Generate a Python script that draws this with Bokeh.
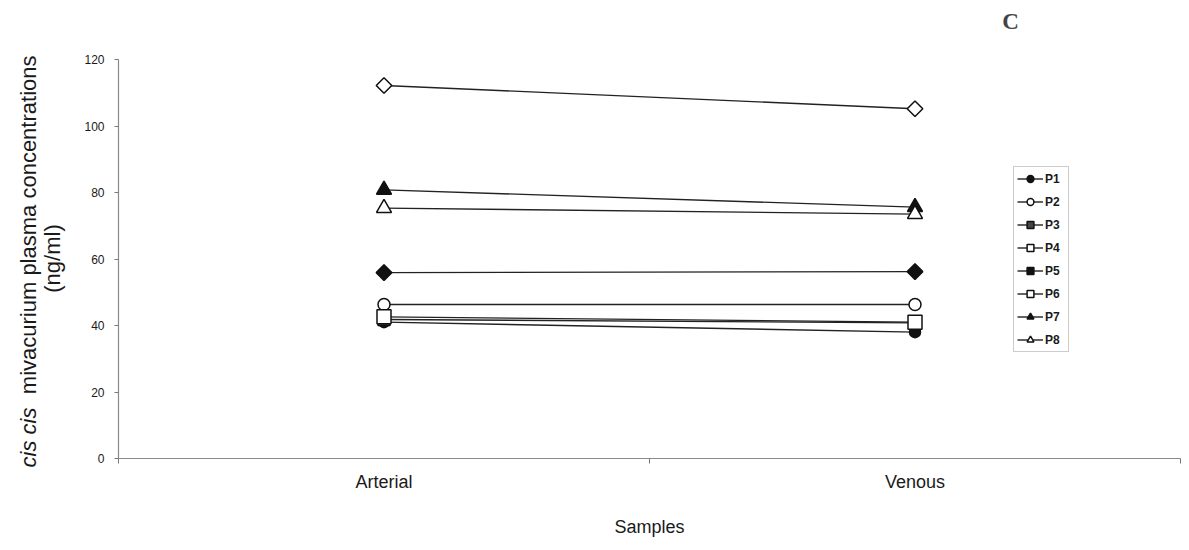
import math
from bokeh.plotting import figure
from bokeh.models import FixedTicker, Label, Legend, LegendItem, Range1d
from bokeh.embed import file_html
from bokeh.resources import INLINE

# ---- data ----
categories = ["Arterial", "Venous"]
series_names = ["P1", "P2", "P3", "P4", "P5", "P6", "P7", "P8"]
P1 = [41.0, 38.0]
P2 = [46.3, 46.3]
P3 = [41.8, 40.8]
P4 = [42.6, 41.0]
P5 = [55.9, 56.2]
P6 = [112.2, 105.2]
P7 = [80.8, 75.6]
P8 = [75.3, 73.5]
series_values = [P1, P2, P3, P4, P5, P6, P7, P8]
y_ticks = [0, 20, 40, 60, 80, 100, 120]

# ---- styles ----
styles = {
    "P1": dict(marker="circle", size=11, fill="#111111", angle=0),
    "P2": dict(marker="circle", size=12, fill="white", angle=0),
    "P3": dict(marker="square", size=12, fill="#444444", angle=0),
    "P4": dict(marker="square", size=14, fill="white", angle=0),
    "P5": dict(marker="square", size=11, fill="#111111", angle=math.pi / 4),
    "P6": dict(marker="square", size=11, fill="white", angle=math.pi / 4),
    "P7": dict(marker="triangle", size=15, fill="#111111", angle=0),
    "P8": dict(marker="triangle", size=15, fill="white", angle=0),
}

FONT = "Liberation Sans"

p = figure(width=1189, height=548, output_backend="svg", toolbar_location=None,
           x_range=Range1d(0, len(categories)), y_range=Range1d(0, 120),
           min_border_left=118, min_border_right=9, min_border_top=59, min_border_bottom=90)
p.outline_line_color = None
p.grid.grid_line_color = None
p.background_fill_color = "white"
p.border_fill_color = "white"

x_pos = [i + 0.5 for i in range(len(categories))]

# x axis: labels at category centres, ticks at category boundaries
p.xaxis.ticker = FixedTicker(ticks=x_pos, minor_ticks=list(range(len(categories) + 1)))
p.xaxis.major_label_overrides = {x: c for x, c in zip(x_pos, categories)}
p.xaxis.major_tick_out = 0
p.xaxis.major_tick_in = 0
p.xaxis.minor_tick_out = 5
p.xaxis.minor_tick_in = 0
p.xaxis.minor_tick_line_color = "#777777"
p.xaxis.axis_line_color = "#8a8a8a"
p.xaxis.axis_line_width = 1.2
p.xaxis.major_label_text_font = FONT
p.xaxis.major_label_text_font_size = "18px"
p.xaxis.major_label_text_color = "#1a1a1a"
p.xaxis.major_label_standoff = 8
p.xaxis.axis_label = "Samples"
p.xaxis.axis_label_text_font = FONT
p.xaxis.axis_label_text_font_size = "18px"
p.xaxis.axis_label_text_font_style = "normal"
p.xaxis.axis_label_text_color = "#1a1a1a"
p.xaxis.axis_label_standoff = 22

# y axis
p.yaxis.ticker = FixedTicker(ticks=y_ticks, minor_ticks=[])
p.yaxis.major_tick_out = 4
p.yaxis.major_tick_in = 0
p.yaxis.major_tick_line_color = "#777777"
p.yaxis.axis_line_color = "#8a8a8a"
p.yaxis.axis_line_width = 1.2
p.yaxis.major_label_text_font = FONT
p.yaxis.major_label_text_font_size = "12px"
p.yaxis.major_label_text_color = "#1a1a1a"
p.yaxis.major_label_standoff = 10
p.yaxis.axis_label = None

items = []
for name, vals in zip(series_names, series_values):
    st = styles[name]
    ln = p.line(x_pos, vals, line_color="#222222", line_width=1.4)
    sc = p.scatter(x_pos, vals, marker=st["marker"], size=st["size"], angle=st["angle"],
                   fill_color=st["fill"], line_color="#111111", line_width=1.5)
    items.append(LegendItem(label=name, renderers=[ln, sc]))

legend = Legend(items=items, location=(895, 106), orientation="vertical",
                border_line_color="#999999", border_line_width=1,
                background_fill_color="white", background_fill_alpha=1,
                label_text_font=FONT, label_text_font_size="12px",
                label_text_font_style="bold", label_text_color="#1a1a1a",
                glyph_width=26, glyph_height=17, spacing=6,
                label_standoff=2, padding=3, margin=0, label_height=17)
p.add_layout(legend, "center")

# y axis label (two lines, with italic "cis cis") - canvas coordinates, side panel (not clipped)
p.add_layout(Label(x=28, y=407, x_units="canvas", y_units="canvas", text="cis cis",
                   angle=math.pi / 2, text_align="right", text_baseline="middle",
                   text_font=FONT, text_font_size="22px", text_font_style="italic",
                   text_color="#1a1a1a"), "left")
p.add_layout(Label(x=28, y=55, x_units="canvas", y_units="canvas",
                   text="mivacurium plasma concentrations",
                   angle=math.pi / 2, text_align="right", text_baseline="middle",
                   text_font=FONT, text_font_size="22px",
                   text_color="#1a1a1a"), "left")
p.add_layout(Label(x=52, y=258, x_units="canvas", y_units="canvas", text="(ng/ml)",
                   angle=math.pi / 2, text_align="center", text_baseline="middle",
                   text_font=FONT, text_font_size="22px",
                   text_color="#1a1a1a"), "left")

# panel letter
p.add_layout(Label(x=1010, y=21, x_units="canvas", y_units="canvas", text="C",
                   text_align="center", text_baseline="middle",
                   text_font="Liberation Serif", text_font_size="23px",
                   text_font_style="bold", text_color="#444444"), "above")

open("out.html", "w").write(file_html(p, INLINE))
